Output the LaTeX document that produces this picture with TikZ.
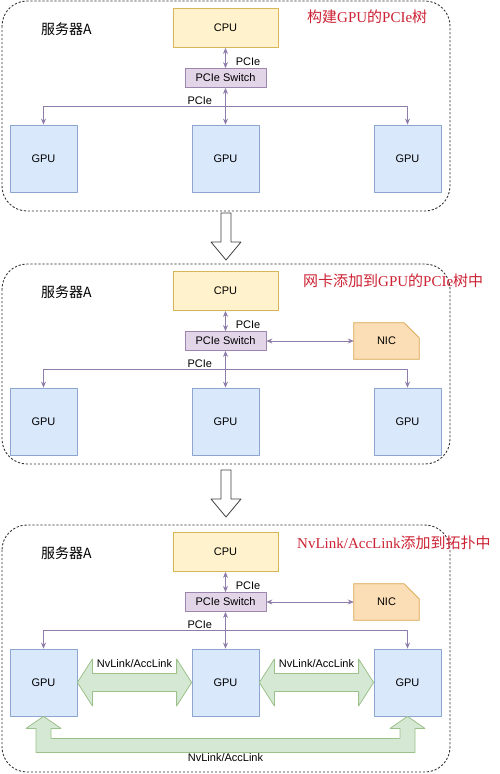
\documentclass[tikz,border=0pt]{standalone}
\usepackage{fontspec}
\setmainfont{Liberation Sans}
\newfontfamily\cjk{Noto Sans CJK SC}
\newfontfamily\ttlserif{Liberation Serif}
\usetikzlibrary{arrows.meta,calc,positioning,backgrounds}
\definecolor{gpufill}{HTML}{DAE8FC}\definecolor{gpuline}{HTML}{8DA6D0}
\definecolor{cpufill}{HTML}{FFF2CC}\definecolor{cpuline}{HTML}{D6B656}
\definecolor{swfill}{HTML}{E1D5E7}\definecolor{swline}{HTML}{9E85B0}
\definecolor{nicfill}{HTML}{FBDDB6}\definecolor{nicline}{HTML}{D9A24A}
\definecolor{nvfill}{HTML}{D5E8D4}\definecolor{nvline}{HTML}{9CC18A}
\definecolor{linkcol}{HTML}{8E7CAB}
\definecolor{ttlred}{HTML}{CC2233}
\begin{document}
\begin{tikzpicture}[x=1pt,y=-1pt,>={Stealth[length=6pt,width=5pt]}, font=\fontsize{11}{13}\selectfont, line join=round]
	\tikzset{box/.style={draw,line width=.8pt,inner sep=0pt},
		gpubox/.style={box,fill=gpufill,draw=gpuline,minimum width=67pt,minimum height=67pt},
		cpubox/.style={box,fill=cpufill,draw=cpuline,minimum width=105pt,minimum height=39pt},
		swbox/.style={box,fill=swfill,draw=swline,minimum width=81pt,minimum height=19pt},
		nicbox/.style={inner sep=0pt,minimum width=65pt,minimum height=36pt},
		link/.style={draw=linkcol,line width=.8pt},
		lbl/.style={inner sep=1pt},
		frame/.style={draw=black!80,line width=.9pt,dash pattern=on 2.2pt off 1.8pt,rounded corners=25pt},
		nvlink/.style={fill=nvfill,draw=nvline,line width=.8pt},
		hollow/.style={fill=white,draw=black!75,line width=.8pt},
		ttl/.style={anchor=west,inner sep=0pt,text=ttlred,font=\cjk\fontsize{15}{17}\selectfont}}
	\useasboundingbox (0,0) rectangle (500,774);
	\foreach \p/\oy/\h in {1/0/211,2/263/201,3/524/248}{
		\draw[frame] (2,\oy+1) rectangle (450,\oy+\h);
		\node[anchor=west,inner sep=0pt,font=\cjk\fontsize{14}{16}\selectfont] (srv\p) at (41,\oy+29) {服务器A};
		\node[cpubox] (cpu\p) at (225.5,\oy+28) {CPU};
		\node[swbox] (sw\p) at (225.5,\oy+78) {PCIe Switch};
		\foreach \i/\x in {1/43.5,2/225.5,3/407.5}
		\node[gpubox] (gpu\p-\i) at (\x,\oy+158.5) {GPU};
		\draw[link,<->] (cpu\p) -- (sw\p) node[lbl,pos=.7,right=9pt] {PCIe};
		\draw[link,<->] (sw\p) -- (gpu\p-2) node[lbl,pos=.35,left=12pt] {PCIe};
		\draw[link,<->] (gpu\p-1.north) -- ++(0,-18) -| (gpu\p-3.north);
	}
	\node[ttl] (ttl1) at (307,17) {构建{\ttlserif GPU}的{\ttlserif PCIe}树};
	\node[ttl] (ttl2) at (303,281) {网卡添加到{\ttlserif GPU}的{\ttlserif PCIe}树中};
	\node[ttl] (ttl3) at (297,543) {{\ttlserif NvLink/AccLink}添加到拓扑中};
	\foreach \p/\oy in {2/263,3/524}{
		\node[nicbox] (nic\p) at (386.5,\oy+78) {NIC};
		\begin{scope}[on background layer]
			\filldraw[fill=nicfill,draw=nicline,line width=.8pt] (nic\p.south west) |- ([xshift=-15pt]nic\p.north east) -- ([yshift=-15pt]nic\p.north east) |- cycle;
		\end{scope}
		\draw[link,<->] (sw\p) -- (nic\p);
	}
	\foreach \a/\b in {1/2,2/3}{
		\draw[nvlink] let \p1=(gpu3-\a.east), \p2=(gpu3-\b.west) in
		(\x1,\y1) -- (\x1+15pt,\y1+23.5pt) -- (\x1+15pt,\y1+9pt) -- (\x2-15pt,\y1+9pt) -- (\x2-15pt,\y1+23.5pt) -- (\x2,\y1)
		-- (\x2-15pt,\y1-23.5pt) -- (\x2-15pt,\y1-9pt) -- (\x1+15pt,\y1-9pt) -- (\x1+15pt,\y1-23.5pt) -- cycle;
		\node[lbl] (nv\a) at ($(gpu3-\a.east)!.5!(gpu3-\b.west)+(0,-19)$) {NvLink/AccLink};
	}
	\draw[nvlink] let \p1=(gpu3-1.south), \p2=(gpu3-3.south) in
	(\x1,\y1) -- (\x1+17.5pt,\y1-12pt) -- (\x1+7.5pt,\y1-12pt) -- (\x1+7.5pt,\y1-22pt) -- (\x2-7.5pt,\y1-22pt) -- (\x2-7.5pt,\y1-12pt)
	-- (\x2-17.5pt,\y1-12pt) -- (\x2,\y2) -- (\x2+17.5pt,\y1-12pt) -- (\x2+7.5pt,\y1-12pt) -- (\x2+7.5pt,\y1-36pt)
	-- (\x1-7.5pt,\y1-36pt) -- (\x1-7.5pt,\y1-12pt) -- (\x1-17.5pt,\y1-12pt) -- cycle;
	\node[lbl] (nv0) at (225.5,758) {NvLink/AccLink};
	\foreach \t/\b in {213/260,470/517}
	\draw[hollow] (221,\t) -- (231,\t) -- (231,\b-18) -- (241,\b-18) -- (226,\b) -- (211,\b-18) -- (221,\b-18) -- cycle;
\end{tikzpicture}
\end{document}
